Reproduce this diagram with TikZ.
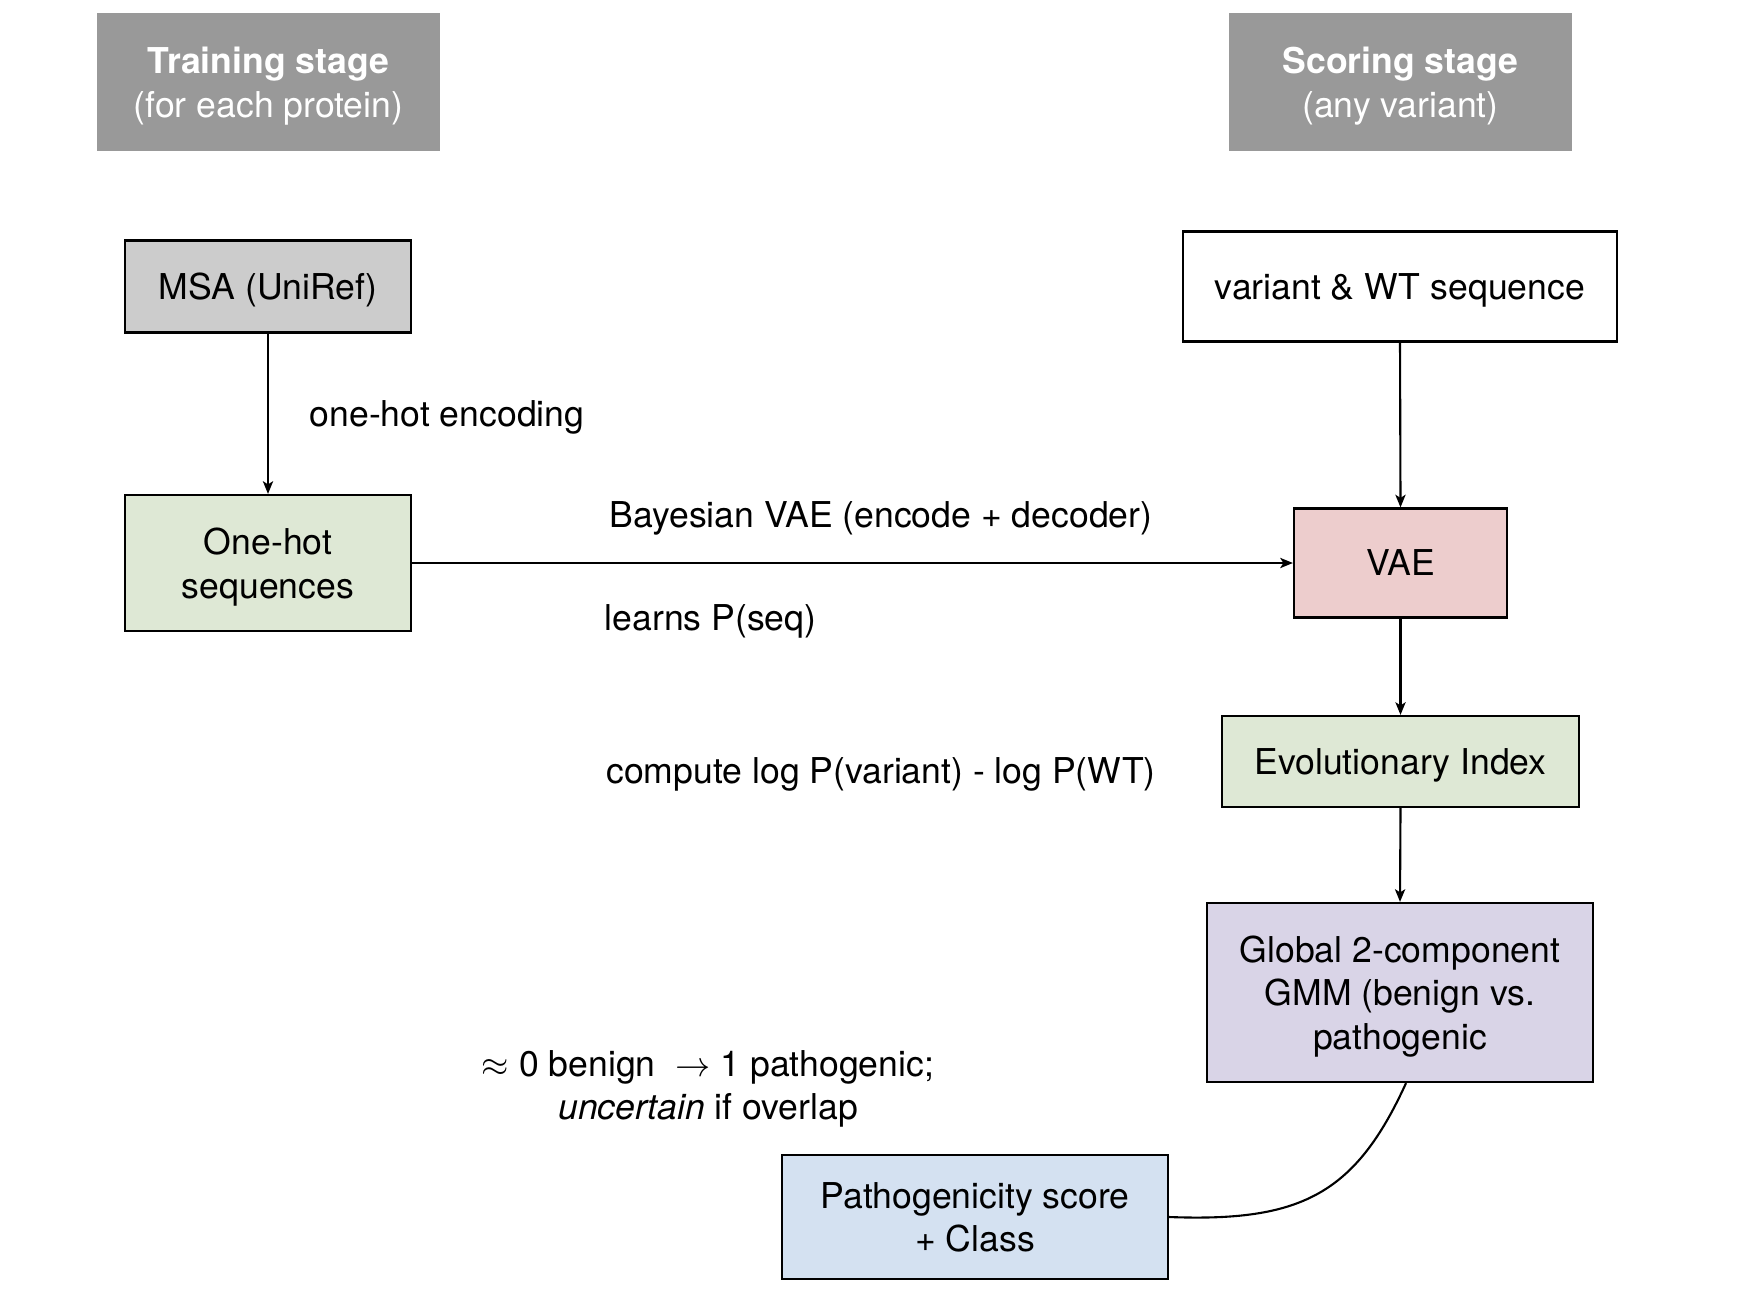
\documentclass[tikz,border=0pt]{standalone}
\usepackage{fontspec}
\setmainfont{TeX Gyre Heros}
\usetikzlibrary{arrows.meta}
\definecolor{hdrgray}{HTML}{999999}
\definecolor{msagray}{HTML}{CCCCCC}
\definecolor{softgreen}{HTML}{DEE8D5}
\definecolor{softred}{HTML}{EDCDCD}
\definecolor{softpurple}{HTML}{D9D4E7}
\definecolor{softblue}{HTML}{D4E1F1}
\begin{document}
\begin{tikzpicture}[x=0.01cm,y=-0.01cm,
  every node/.style={font=\fontsize{10.12pt}{12.4pt}\selectfont, text depth=0pt},
  header/.style={fill=hdrgray, text=white, draw=none, align=center,
    minimum width=3.43cm, minimum height=1.38cm, inner sep=0pt},
  procbox/.style={draw=black, line width=0.6pt, align=center, inner sep=0pt},
  lbl/.style={inner sep=0pt, align=center},
  flow/.style={draw=black, line width=0.6pt, -{Stealth[length=3.6pt,width=2.9pt,inset=0.9pt]}},
  plainlink/.style={draw=black, line width=0.6pt}
]
\useasboundingbox (0,0) rectangle (1752,1294);

% headers
\node[header] (train) at (268.5,82) {\textbf{Training stage}\\(for each protein)};
\node[header] (score) at (1400.5,82) {\textbf{Scoring stage}\\(any variant)};

% boxes
\node[procbox, fill=msagray, minimum width=2.86cm, minimum height=0.92cm] (msa) at (268,286.5) {MSA (UniRef)};
\node[procbox, fill=white, minimum width=4.34cm, minimum height=1.10cm] (var) at (1400,286.5) {variant \& WT sequence};
\node[procbox, fill=softgreen, minimum width=2.86cm, minimum height=1.36cm] (onehot) at (268,563) {One-hot\\sequences};
\node[procbox, fill=softred, minimum width=2.13cm, minimum height=1.09cm] (vae) at (1400.5,563) {VAE};
\node[procbox, fill=softgreen, minimum width=3.56cm, minimum height=0.91cm] (ei) at (1400.5,761.5) {Evolutionary Index};
\node[procbox, fill=softpurple, minimum width=3.86cm, minimum height=1.79cm] (gmm) at (1400,992.5) {Global 2-component\\GMM (benign vs.\\pathogenic};
\node[procbox, fill=softblue, minimum width=3.86cm, minimum height=1.24cm] (path) at (975,1217) {Pathogenicity score\\+ Class};

% labels
\node[lbl, anchor=west] (lenc) at (309,414) {one-hot encoding};
\node[lbl] (lbayes) at (881,515) {Bayesian VAE (encode + decoder)};
\node[lbl, anchor=west] (llearn) at (604,618) {learns P(seq)};
\node[lbl] (lcomp) at (881,771) {compute log P(variant) - log P(WT)};
\node[lbl] (lscore) at (708,1085) {$\approx$ 0 benign \ $\rightarrow$ 1 pathogenic;\\\textit{uncertain} if overlap};

% connectors
\draw[flow] (msa.south) -- (onehot.north);
\draw[flow] (var.south) -- (vae.north);
\draw[flow] (onehot.east) -- (vae.west);
\draw[flow] (vae.south) -- (ei.north);
\draw[flow] (ei.south) -- (gmm.north);
\draw[plainlink] ([xshift=0.06cm]gmm.south) .. controls (1355,1195) and (1300,1222) .. (path.east);
\end{tikzpicture}
\end{document}
